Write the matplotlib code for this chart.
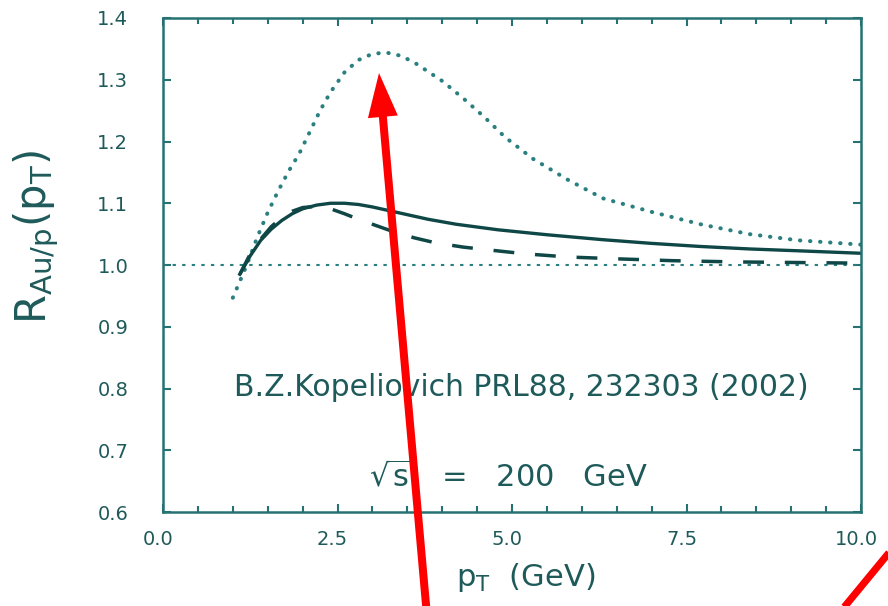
import matplotlib
matplotlib.use("Agg")
import matplotlib.pyplot as plt
import matplotlib.transforms as mtransforms
from matplotlib.patches import FancyArrow
from matplotlib.lines import Line2D
from matplotlib.ticker import MultipleLocator

# transverse momentum grid (GeV) and R_Au/p curves
pt_solid = [1.1, 1.25, 1.4, 1.55, 1.7, 1.85, 2.0, 2.2, 2.4, 2.6, 2.8, 3.0,
            3.4, 3.8, 4.2, 4.8, 5.5, 6.3, 7.0, 7.7, 8.4, 9.1, 10.0]
r_solid = [0.985, 1.015, 1.040, 1.058, 1.072, 1.083, 1.091, 1.097, 1.100, 1.100,
           1.098, 1.094, 1.084, 1.074, 1.066, 1.057, 1.049, 1.041, 1.035, 1.030,
           1.026, 1.023, 1.019]

pt_dashed = [1.1, 1.25, 1.4, 1.55, 1.7, 1.85, 2.0, 2.2, 2.4, 2.6, 2.8, 3.0,
             3.3, 3.6, 3.9, 4.3, 4.7, 5.2, 5.8, 6.5, 7.3, 8.2, 9.1, 10.0]
r_dashed = [0.985, 1.018, 1.042, 1.062, 1.077, 1.087, 1.093, 1.095, 1.091, 1.083,
            1.074, 1.066, 1.054, 1.044, 1.036, 1.029, 1.024, 1.018, 1.013, 1.010,
            1.007, 1.005, 1.004, 1.003]

pt_dotted = [1.0, 1.2, 1.35, 1.5, 1.65, 1.8, 1.95, 2.1, 2.25, 2.4, 2.6, 2.8, 3.0,
             3.2, 3.4, 3.6, 3.8, 4.0, 4.3, 4.6, 4.9, 5.3, 5.8, 6.3, 7.0, 7.7,
             8.4, 9.1, 10.0]
r_dotted = [0.947, 1.000, 1.045, 1.085, 1.120, 1.152, 1.180, 1.215, 1.250, 1.280,
            1.312, 1.332, 1.342, 1.344, 1.339, 1.328, 1.313, 1.298, 1.270, 1.240,
            1.207, 1.172, 1.138, 1.108, 1.086, 1.066, 1.050, 1.040, 1.033]

x_ticks = [0.0, 2.5, 5.0, 7.5, 10.0]
x_tick_labels = ["0.0", "2.5", "5.0", "7.5", "10.0"]
y_ticks = [0.6, 0.7, 0.8, 0.9, 1.0, 1.1, 1.2, 1.3, 1.4]
y_tick_labels = ["0.6", "0.7", "0.8", "0.9", "1.0", "1.1", "1.2", "1.3", "1.4"]

frame = "#267272"
ink = "#1f5a5a"
curve = "#0f4646"
dots = "#2a7f7f"

plt.rcParams["font.family"] = ["DejaVu Sans"]
plt.rcParams["mathtext.fontset"] = "dejavusans"

fig = plt.figure(figsize=(8.88, 6.06), dpi=100, facecolor="white")
ax = fig.add_axes([0.1836, 0.1551, 0.7860, 0.8152])

ax.axhline(1.0, color=dots, lw=1.5, linestyle=(0, (1.6, 3.0)))
ax.plot(pt_dotted, r_dotted, color=dots, lw=2.9, linestyle=(0, (0.1, 2.4)),
        dash_capstyle="round")
ax.plot(pt_dashed, r_dashed, color=curve, lw=2.5, linestyle=(0, (6.0, 6.0)))
ax.plot(pt_solid, r_solid, color=curve, lw=2.4)

ax.set_xlim(0, 10)
ax.set_ylim(0.6, 1.4)
ax.set_xticks(x_ticks)
ax.set_xticklabels(x_tick_labels)
ax.set_yticks(y_ticks)
ax.set_yticklabels(y_tick_labels)
ax.xaxis.set_minor_locator(MultipleLocator(0.5))

for side in ax.spines.values():
    side.set_color(frame)
    side.set_linewidth(1.8)

ax.tick_params(which="both", direction="in", top=True, right=True, color=frame,
               width=1.5, labelcolor=ink, labelsize=14)
ax.tick_params(which="major", length=6)
ax.tick_params(which="minor", length=4)
ax.tick_params(axis="y", pad=25)
ax.tick_params(axis="x", pad=13)

shift = mtransforms.ScaledTranslation(-5 / 100, 0, fig.dpi_scale_trans)
for lab in ax.get_xticklabels():
    lab.set_transform(lab.get_transform() + shift)

ax.set_xlabel(r"$\mathregular{p_T}$  (GeV)", fontsize=22, color=ink)
ax.xaxis.set_label_coords(0.52, -0.100)
ax.set_ylabel(r"$\mathregular{R_{Au/p}(p_T)}$", fontsize=30, color=ink)
ax.yaxis.set_label_coords(-0.146, 0.557)

ax.text(0.514, 0.252, "B.Z.Kopeliovich PRL88, 232303 (2002)", transform=ax.transAxes,
        ha="center", va="center", fontsize=21.5, color=ink)
ax.text(0.495, 0.070, r"$\sqrt{\mathregular{s}}$   =   200   GeV", transform=ax.transAxes,
        ha="center", va="center", fontsize=22, color=ink)

# red annotation strokes, laid out in figure pixels (origin at bottom left)
px = mtransforms.Affine2D().scale(1 / 888, 1 / 606) + fig.transFigure
fig.add_artist(FancyArrow(427, -10, -48, 543, width=8, head_width=30, head_length=44,
                          length_includes_head=True, color="#ff0000", lw=0,
                          transform=px))
fig.add_artist(Line2D([841, 897], [-5, 63], color="#ff0000", lw=5.2,
                      transform=px, solid_capstyle="butt"))

fig.savefig("out.png", dpi=100, facecolor="white")
